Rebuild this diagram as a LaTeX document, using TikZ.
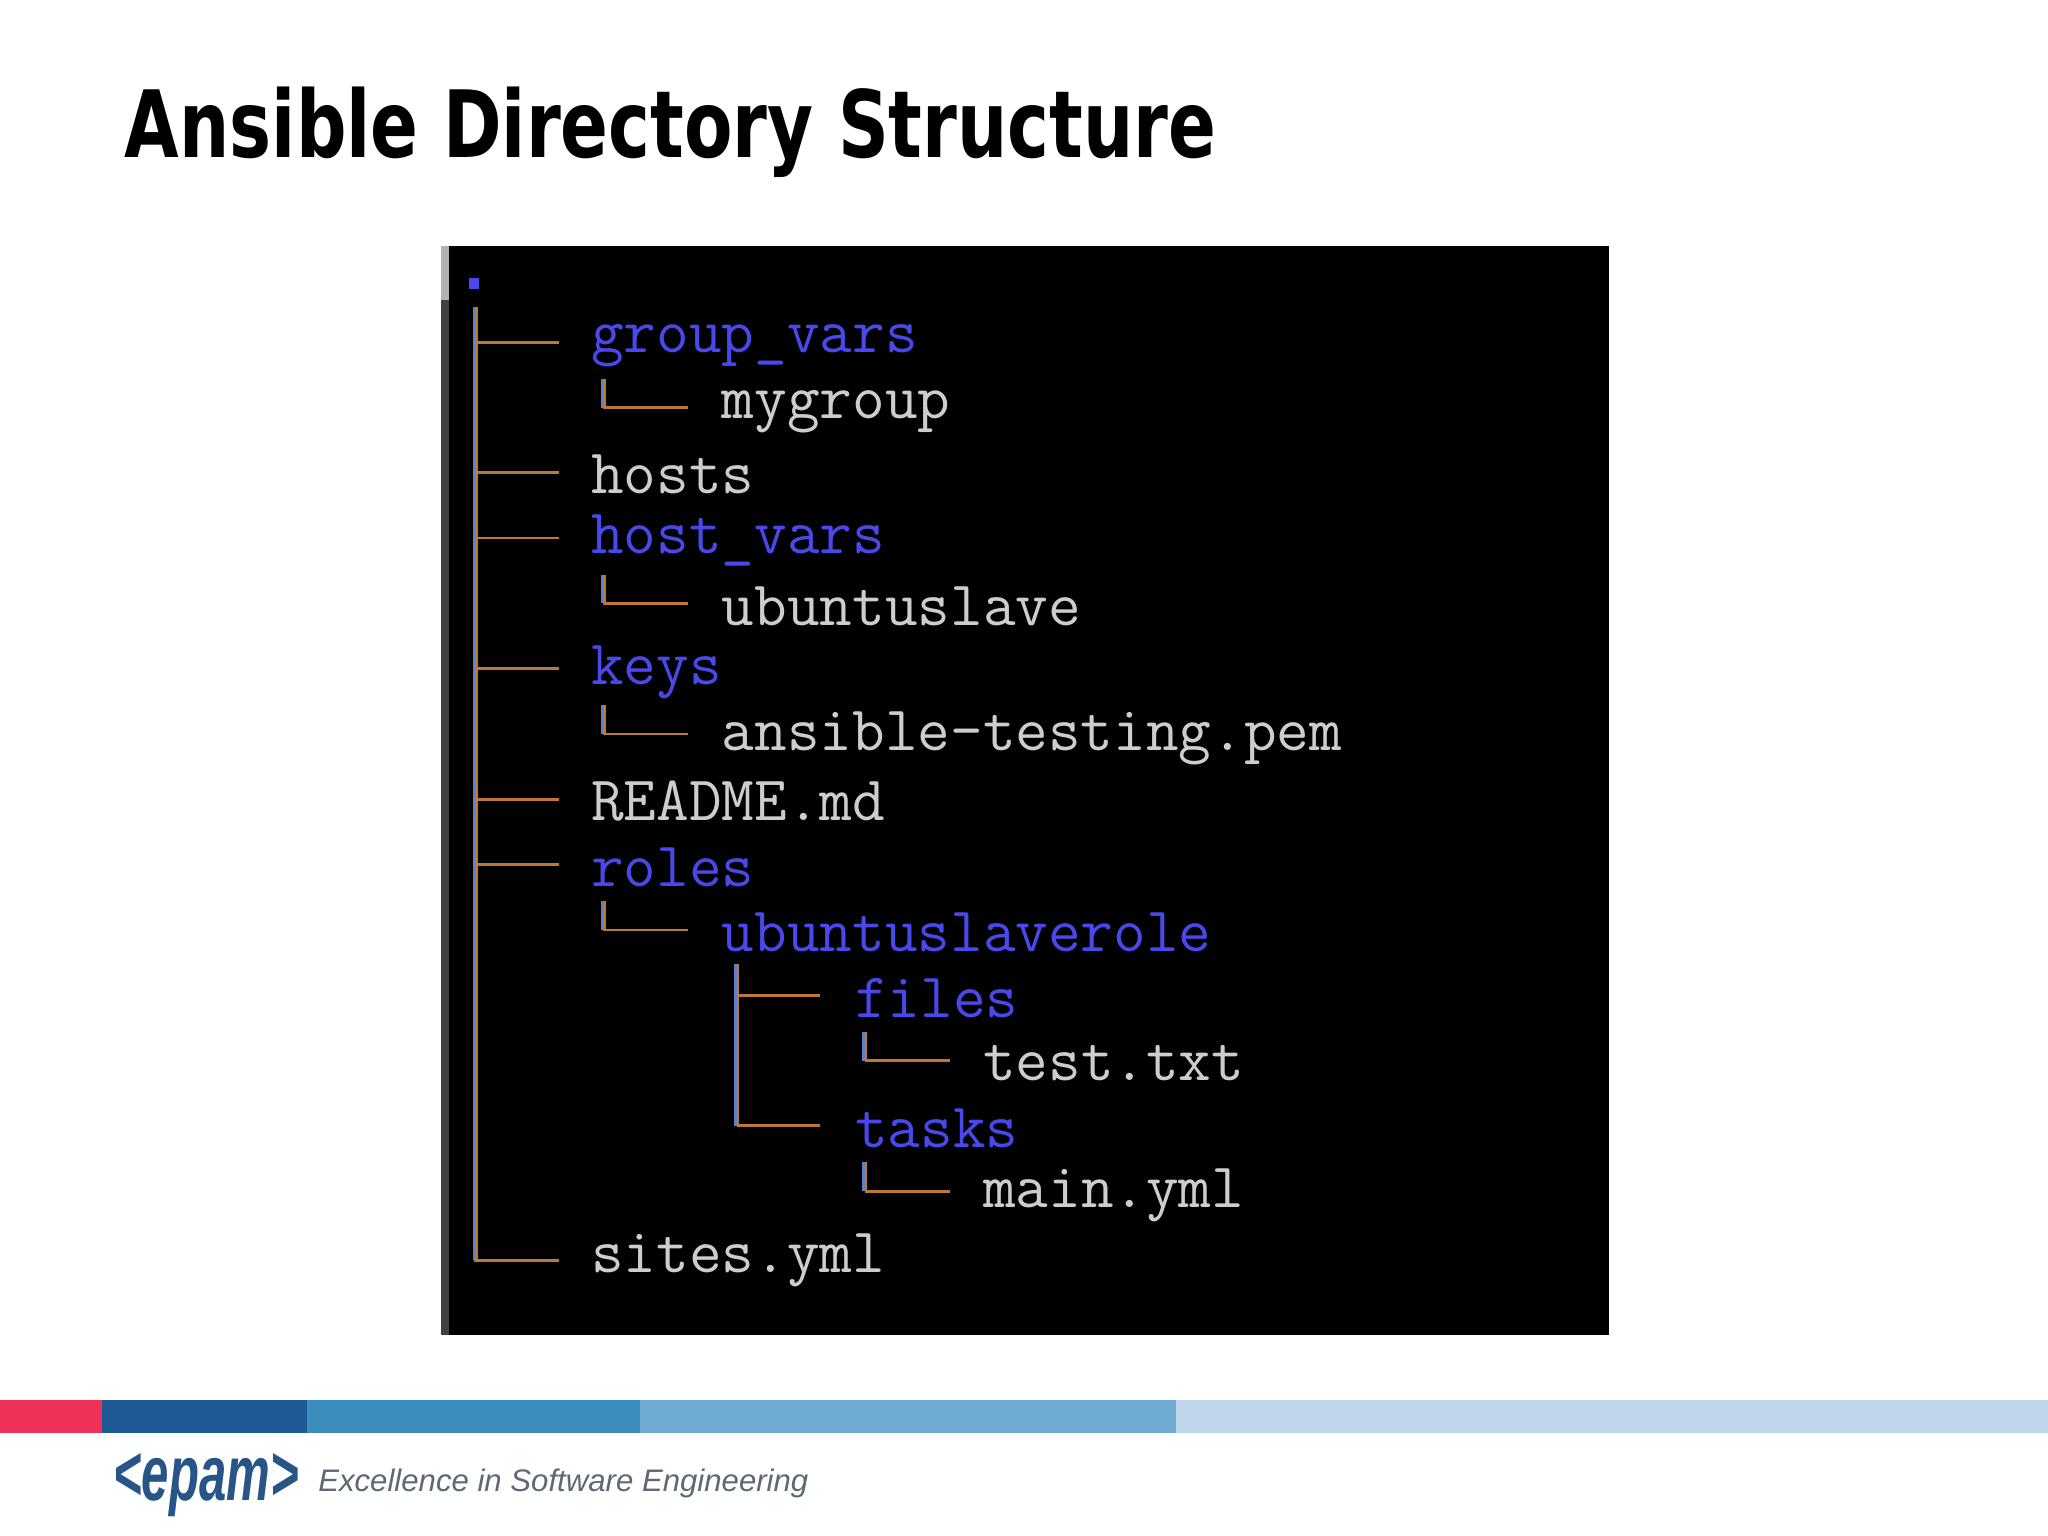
\documentclass[tikz,border=0pt]{standalone}
\usepackage{fontspec}
\setmainfont{Liberation Sans}
\newfontfamily\titlefont{DejaVu Sans}
\definecolor{tblue}{RGB}{72,72,235}
\definecolor{tgray}{RGB}{205,205,205}
\definecolor{lblue}{RGB}{90,130,200}
\definecolor{lorange}{RGB}{190,120,50}
\definecolor{epam}{RGB}{40,85,135}
\definecolor{tag}{RGB}{95,105,115}
\definecolor{b1}{RGB}{240,50,90}
\definecolor{b2}{RGB}{30,90,150}
\definecolor{b3}{RGB}{60,140,190}
\definecolor{b4}{RGB}{110,170,210}
\definecolor{b5}{RGB}{190,215,232}
\begin{document}
\begin{tikzpicture}[x=0.01cm,y=-0.01cm,
  dirn/.style={anchor=west,inner sep=0,text=tblue,font=\ttfamily\fontsize{13.8}{14}\selectfont},
  filen/.style={anchor=west,inner sep=0,text=tgray,font=\ttfamily\fontsize{13.8}{14}\selectfont},
  tl/.style={line width=0.6pt,draw=lorange},
  tlb/.style={line width=0.6pt,draw=lblue}]
\useasboundingbox (0,0) rectangle (1568,1176);
\fill[white] (0,0) rectangle (1568,1176);
% title
\node[anchor=west,inner sep=0] (title) at (95,101) {\resizebox{8.35cm}{0.54cm}{\titlefont\bfseries Ansible Directory Structure}};
% terminal
\fill[black] (338,188) rectangle (1232,1022);
\fill[gray!60] (338,188) rectangle (344,230);
\fill[black!75] (338,230) rectangle (344,1022);
\fill[tblue] (359,213) rectangle (367,221);
% trunk
\draw[tlb] (363,235) -- (363,965);
\draw[tl] (365,235) -- (365,965);
\foreach \y in {262,362,412,512,612,662}{\draw[tl] (365,\y) -- (428,\y);}
\draw[tl] (363,965) -- (428,965);
% sub
\foreach \x/\y in {462/312,462/462,462/562,462/712,662/812,662/912}{
  \draw[tlb] (\x-1,\y-22) -- (\x-1,\y);
  \draw[tl] (\x+1,\y-22) -- (\x+1,\y) -- (\x+65,\y);}
% ubuntuslaverole subtree
\draw[tlb] (563,738) -- (563,862);
\draw[tl] (565,738) -- (565,862) -- (628,862);
\draw[tl] (565,762) -- (628,762);
% texts
\node[dirn] (gv) at (452,265) {group\_vars};
\node[filen] (mg) at (552,315) {mygroup};
\node[filen] (ho) at (452,363) {hosts};
\node[dirn] (hv) at (452,414) {host\_vars};
\node[filen] (us) at (552,464) {ubuntuslave};
\node[dirn] (ke) at (452,515) {keys};
\node[filen] (pem) at (552,565) {ansible-testing.pem};
\node[filen] (rd) at (452,613) {README.md};
\node[dirn] (ro) at (452,664) {roles};
\node[dirn] (usr) at (552,714) {ubuntuslaverole};
\node[dirn] (fi) at (654,764) {files};
\node[filen] (tt) at (752,814) {test.txt};
\node[dirn] (ta) at (654,864) {tasks};
\node[filen] (my) at (752,915) {main.yml};
\node[filen] (si) at (452,965) {sites.yml};
% footer bars
\fill[b1] (0,1072) rectangle (78,1097);
\fill[b2] (78,1072) rectangle (235,1097);
\fill[b3] (235,1072) rectangle (490,1097);
\fill[b4] (490,1072) rectangle (900,1097);
\fill[b5] (900,1072) rectangle (1568,1097);
\node[anchor=west,inner sep=0,text=epam] (logo) at (86,1137) {\resizebox{1.42cm}{0.36cm}{\bfseries\itshape <epam>}};
\node[anchor=west,inner sep=0,text=tag] (tagl) at (243,1136) {\resizebox{3.75cm}{!}{\itshape Excellence in Software Engineering}};
\end{tikzpicture}
\end{document}
